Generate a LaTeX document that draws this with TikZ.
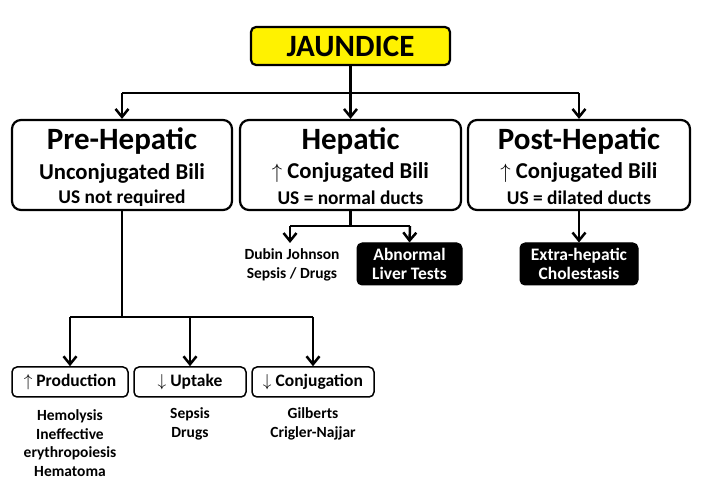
\documentclass[tikz,border=0pt]{standalone}
\usepackage{fontspec}
\setmainfont{Carlito}
\usetikzlibrary{arrows.meta}
\begin{document}
\begin{tikzpicture}[x=1pt,y=-1pt,
  font=\bfseries,
  line width=2.5pt,
  arr/.style={-{Straight Barb[length=8pt,width=13pt,line width=2.5pt]}},
  wbox/.style={draw,rounded corners=9pt,fill=white,inner sep=0pt,line width=2.2pt},
  bbox/.style={draw,rounded corners=5pt,fill=black,text=white,inner sep=0pt,line width=1pt},
  sbox/.style={draw,rounded corners=5pt,fill=white,inner sep=0pt,line width=1.5pt}]
\useasboundingbox (0,0) rectangle (702,502);
\fill[white] (0,0) rectangle (702,502);
% top
\node[draw,fill=yellow,rounded corners=5pt,line width=2.2pt,minimum width=199pt,minimum height=38pt,inner sep=0pt,font=\bfseries\fontsize{31}{33}\selectfont] (j) at (350.5,46) {JAUNDICE};
% main boxes
\node[wbox,minimum width=220pt,minimum height=90pt] (pre) at (122,165) {};
\node[wbox,minimum width=221pt,minimum height=90pt] (hep) at (350.5,165) {};
\node[wbox,minimum width=222pt,minimum height=90pt] (post) at (579,165) {};
\node[font=\bfseries\fontsize{31}{33}\selectfont] (preT) at (122,141) {Pre-Hepatic};
\node[font=\bfseries\fontsize{22.7}{25}\selectfont] (preU) at (122,173) {Unconjugated Bili};
\node[font=\bfseries\fontsize{19.4}{21}\selectfont] (preS) at (122,198) {US not required};
\node[font=\bfseries\fontsize{31}{33}\selectfont] (hepT) at (350.5,141) {Hepatic};
\node[font=\bfseries\fontsize{22.7}{25}\selectfont] (hepU) at (350.5,173) {$\uparrow$ Conjugated Bili};
\node[font=\bfseries\fontsize{19.4}{21}\selectfont] (hepS) at (350.5,198) {US = normal ducts};
\node[font=\bfseries\fontsize{31}{33}\selectfont] (postT) at (579,141) {Post-Hepatic};
\node[font=\bfseries\fontsize{22.7}{25}\selectfont] (postU) at (579,173) {$\uparrow$ Conjugated Bili};
\node[font=\bfseries\fontsize{19.4}{21}\selectfont] (postS) at (579,198) {US = dilated ducts};
% top connectors
\coordinate (jb) at (350.5,93);
\draw (j.south) -- (jb);
\draw (122,93) -- (579,93);
\draw[arr] (122,93) -- (pre.north);
\draw[arr] (jb) -- (hep.north);
\draw[arr] (579,93) -- (post.north);
% hepatic children
\node[font=\bfseries\fontsize{15.5}{18.5}\selectfont,align=center] (dub) at (292,265) {Dubin Johnson\\Sepsis / Drugs};
\node[bbox,minimum width=105pt,minimum height=42pt,align=center,font=\bfseries\fontsize{17.5}{19.5}\selectfont] (alt) at (409.5,264) {Abnormal\\Liver Tests};
\draw (hep.south) -- (350.5,226);
\draw (290,226) -- (410,226);
\draw[arr] (290,226) -- (290,243);
\draw[arr] (410,226) -- (alt.north);
% post-hepatic child
\node[bbox,minimum width=118pt,minimum height=42pt,align=center,font=\bfseries\fontsize{17.5}{19.5}\selectfont] (ehc) at (579,264) {Extra-hepatic\\Cholestasis};
\draw[arr] (post.south) -- (ehc.north);
% pre-hepatic children
\node[sbox,minimum width=116pt,minimum height=30pt,font=\bfseries\fontsize{17.5}{19}\selectfont] (prod) at (70,382) {$\uparrow$ Production};
\node[sbox,minimum width=112pt,minimum height=30pt,font=\bfseries\fontsize{17.5}{19}\selectfont] (upt) at (190,382) {$\downarrow$ Uptake};
\node[sbox,minimum width=122pt,minimum height=30pt,font=\bfseries\fontsize{17.5}{19}\selectfont] (conj) at (313,382) {$\downarrow$ Conjugation};
\draw (pre.south) -- (122,317);
\draw (70,317) -- (313,317);
\draw[arr] (70,317) -- (prod.north);
\draw[arr] (190,317) -- (upt.north);
\draw[arr] (313,317) -- (conj.north);
\node[font=\bfseries\fontsize{15.5}{18.7}\selectfont,align=center,anchor=north] (prodL) at (70,405) {Hemolysis\\Ineffective\\erythropoiesis\\Hematoma};
\node[font=\bfseries\fontsize{15.5}{18.7}\selectfont,align=center,anchor=north] (uptL) at (190,403) {Sepsis\\Drugs};
\node[font=\bfseries\fontsize{15.5}{18.7}\selectfont,align=center,anchor=north] (conjL) at (313,403) {Gilberts\\Crigler-Najjar};
\end{tikzpicture}
\end{document}
